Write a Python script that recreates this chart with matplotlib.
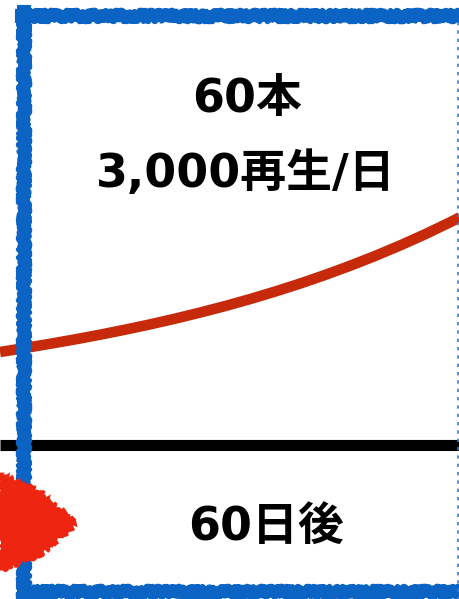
import matplotlib
matplotlib.use("Agg")
import matplotlib.pyplot as plt
from matplotlib.patches import Polygon

plt.rcParams['font.family'] = ['DejaVu Sans', 'Noto Sans CJK JP']

# Data (figure-pixel coordinates; y grows downward)
curve_x = [0, 25, 50, 75, 100, 125, 150, 175, 200, 225, 250, 275, 300,
           325, 350, 375, 400, 425, 450, 460]
curve_y = [352, 348, 343.8, 339.4, 334.7, 329.7, 324.4, 318.7, 312.6, 306.1,
           299.1, 291.6, 283.6, 275.0, 265.8, 256.0, 245.5, 234.3, 222.3, 217.2]
baseline_y = 444.5
label_top = ["60本", "3,000再生/日"]
label_bottom = "60日後"

W, H = 460, 599
fig = plt.figure(figsize=(W / 100, H / 100), dpi=100)
ax = fig.add_axes([0, 0, 1, 1])
ax.set_xlim(0, W)
ax.set_ylim(H, 0)
ax.axis('off')

# growth curve
ax.plot(curve_x, curve_y, color='#c62a0a', lw=7.6, solid_capstyle='butt',
        solid_joinstyle='round', zorder=3)

# black baseline
ax.plot([0, W], [baseline_y, baseline_y], color='black', lw=8.0,
        solid_capstyle='butt', zorder=3)

# blue sketchy frame
blue = '#0b63c4'
for dx in (-4.5, -1.5, 1.5, 4.5):
    l, = ax.plot([24 + dx, 24 + dx], [7, H], color=blue, lw=3.6, zorder=4)
    l.set_sketch_params(scale=1.3, length=5, randomness=25)
for dy in (-4.5, -1.5, 1.5, 4.5):
    l, = ax.plot([17, W], [15 + dy, 15 + dy], color=blue, lw=3.6, zorder=4)
    l.set_sketch_params(scale=1.3, length=5, randomness=25)
    l, = ax.plot([24, W], [591 + dy, 591 + dy], color=blue, lw=3.6, zorder=4)
    l.set_sketch_params(scale=1.3, length=5, randomness=25)
ax.plot([458.5, 458.5], [22, H], color='#3a7ccc', lw=1.2, ls=(0, (2, 3)), zorder=4)

# red sketchy arrow
arrow = Polygon([[0, 474], [40, 492], [77, 523], [40, 555], [0, 570]],
                closed=True, facecolor='#ee2511', edgecolor='#ee2511', lw=2, zorder=5)
arrow.set_sketch_params(scale=2.5, length=7, randomness=25)
ax.add_patch(arrow)

# texts
kw = dict(ha='center', va='center', fontsize=33, fontweight='bold',
          color='black', zorder=7)
ax.text(247, 100, label_top[0], **kw)
ax.text(246, 174, label_top[1], **kw)
ax.text(266, 528, label_bottom, **kw)

fig.savefig('out.png', dpi=100, facecolor='white')
